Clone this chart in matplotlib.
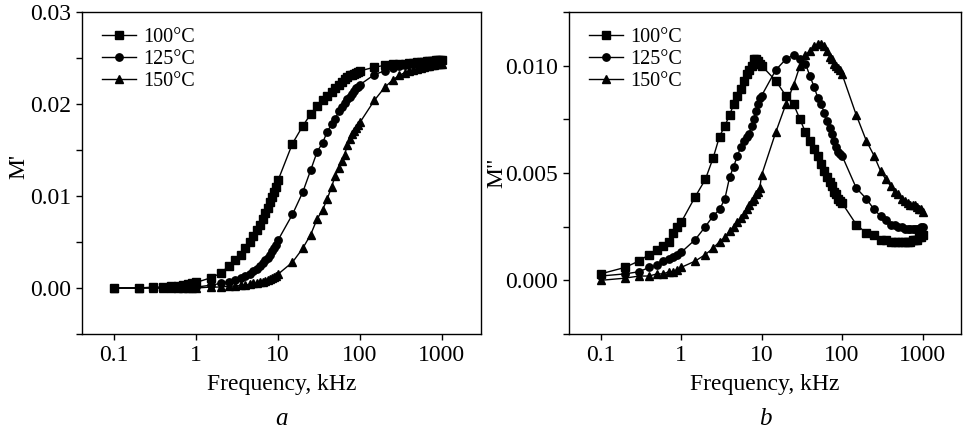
import matplotlib
matplotlib.use("Agg")
import matplotlib.pyplot as plt
from matplotlib.ticker import FixedLocator, NullLocator, MultipleLocator, FormatStrFormatter

plt.rcParams['font.family'] = ['Liberation Serif', 'DejaVu Serif']

# frequency points, kHz
freq = [0.1, 0.2, 0.3, 0.4, 0.5, 0.6, 0.7, 0.8, 0.9,
        1, 1.5, 2, 2.5, 3, 3.5, 4, 4.5, 5, 5.5, 6, 6.5, 7, 7.5, 8, 8.5, 9, 9.5,
        10, 15, 20, 25, 30, 35, 40, 45, 50, 55, 60, 65, 70, 75, 80, 85, 90, 95,
        100, 150, 200, 250, 300, 350, 400, 450, 500, 550, 600, 650, 700, 750,
        800, 850, 900, 950, 1000]

labels = ['100°C', '125°C', '150°C']
markers = ['s', 'o', '^']

# M' (real part of electric modulus)
m1_100 = [0.0000, 0.0000, 0.0001, 0.0001, 0.0002, 0.0002, 0.0003, 0.0004, 0.0005,
          0.0006, 0.0011, 0.0016, 0.0024, 0.0030, 0.0036, 0.0043, 0.0050, 0.0057,
          0.0063, 0.0069, 0.0075, 0.0081, 0.0087, 0.0093, 0.0099, 0.0104, 0.0110,
          0.0117, 0.0157, 0.0176, 0.0189, 0.0198, 0.0204, 0.0209, 0.0213, 0.0217,
          0.0221, 0.0224, 0.0227, 0.0229, 0.0231, 0.0232, 0.0233, 0.0234, 0.0235,
          0.0236, 0.0240, 0.0242, 0.0243, 0.0244, 0.0244, 0.0245, 0.0245, 0.0246,
          0.0246, 0.0246, 0.0247, 0.0247, 0.0247, 0.0247, 0.0248, 0.0248, 0.0248, 0.0248]
m1_125 = [0.0000, 0.0000, 0.0000, 0.0000, 0.0000, 0.0001, 0.0001, 0.0001, 0.0001,
          0.0001, 0.0003, 0.0005, 0.0007, 0.0009, 0.0011, 0.0013, 0.0015, 0.0018,
          0.0021, 0.0024, 0.0027, 0.0030, 0.0033, 0.0036, 0.0040, 0.0043, 0.0047,
          0.0052, 0.0080, 0.0104, 0.0128, 0.0148, 0.0158, 0.0170, 0.0178, 0.0184,
          0.0192, 0.0197, 0.0201, 0.0205, 0.0208, 0.0211, 0.0214, 0.0217, 0.0219,
          0.0221, 0.0232, 0.0236, 0.0239, 0.0241, 0.0242, 0.0243, 0.0244, 0.0244,
          0.0245, 0.0245, 0.0246, 0.0246, 0.0246, 0.0247, 0.0247, 0.0247, 0.0248, 0.0248]
m1_150 = [0.0000, 0.0000, 0.0000, 0.0000, 0.0000, 0.0000, 0.0000, 0.0000, 0.0000,
          0.0000, 0.0001, 0.0001, 0.0002, 0.0002, 0.0003, 0.0003, 0.0004, 0.0005,
          0.0005, 0.0006, 0.0007, 0.0008, 0.0009, 0.0010, 0.0011, 0.0012, 0.0013,
          0.0015, 0.0028, 0.0043, 0.0058, 0.0075, 0.0085, 0.0097, 0.0110, 0.0122,
          0.0130, 0.0138, 0.0145, 0.0155, 0.0162, 0.0167, 0.0171, 0.0174, 0.0177,
          0.0180, 0.0204, 0.0218, 0.0226, 0.0231, 0.0234, 0.0236, 0.0237, 0.0238,
          0.0239, 0.0240, 0.0241, 0.0241, 0.0242, 0.0242, 0.0243, 0.0243, 0.0244, 0.0244]

# M'' (imaginary part)
m2_100 = [0.0003, 0.0006, 0.0009, 0.0012, 0.0014, 0.0016, 0.0018, 0.0022, 0.0025,
          0.0027, 0.0039, 0.0047, 0.0057, 0.0067, 0.0072, 0.0077, 0.0082, 0.0086,
          0.0089, 0.0093, 0.0096, 0.0098, 0.0100, 0.0103, 0.0103, 0.0102, 0.0101,
          0.0100, 0.0093, 0.0086, 0.0082, 0.0075, 0.0069, 0.0065, 0.0061, 0.0058,
          0.0054, 0.0051, 0.0048, 0.0046, 0.0044, 0.0041, 0.0040, 0.0038, 0.0037,
          0.0036, 0.0026, 0.0022, 0.0021, 0.0019, 0.0019, 0.0018, 0.0018, 0.0018,
          0.0018, 0.0018, 0.0018, 0.0018, 0.0019, 0.0019, 0.0019, 0.0020, 0.0020, 0.0021]
m2_125 = [0.0002, 0.0003, 0.0004, 0.0006, 0.0007, 0.0009, 0.0010, 0.0011, 0.0012,
          0.0013, 0.0019, 0.0025, 0.0030, 0.0033, 0.0038, 0.0048, 0.0053, 0.0058,
          0.0062, 0.0065, 0.0067, 0.0068, 0.0072, 0.0075, 0.0079, 0.0082, 0.0085,
          0.0086, 0.0098, 0.0103, 0.0105, 0.0103, 0.0101, 0.0095, 0.0090, 0.0085,
          0.0082, 0.0078, 0.0074, 0.0071, 0.0068, 0.0065, 0.0062, 0.0060, 0.0059,
          0.0058, 0.0043, 0.0038, 0.0033, 0.0030, 0.0028, 0.0026, 0.0026, 0.0025,
          0.0025, 0.0024, 0.0024, 0.0024, 0.0024, 0.0024, 0.0024, 0.0024, 0.0025, 0.0025]
m2_150 = [0.0000, 0.0001, 0.0002, 0.0002, 0.0003, 0.0003, 0.0004, 0.0004, 0.0005,
          0.0006, 0.0009, 0.0012, 0.0015, 0.0018, 0.0020, 0.0023, 0.0025, 0.0027,
          0.0029, 0.0031, 0.0033, 0.0035, 0.0037, 0.0038, 0.0040, 0.0041, 0.0043,
          0.0049, 0.0069, 0.0082, 0.0091, 0.0100, 0.0105, 0.0107, 0.0109, 0.0110,
          0.0110, 0.0109, 0.0107, 0.0104, 0.0103, 0.0101, 0.0100, 0.0099, 0.0098,
          0.0096, 0.0077, 0.0065, 0.0058, 0.0051, 0.0047, 0.0044, 0.0041, 0.0040,
          0.0038, 0.0037, 0.0036, 0.0035, 0.0035, 0.0035, 0.0034, 0.0033, 0.0033, 0.0032]

xticks = [0.1, 1, 10, 100, 1000]
xticklabels = ['0.1', '1', '10', '100', '1000']

fig = plt.figure(figsize=(9.63, 4.30), dpi=100)
ax1 = fig.add_axes([82 / 963, 1 - 334 / 430, 399 / 963, 322 / 430])
ax2 = fig.add_axes([569 / 963, 1 - 334 / 430, 392 / 963, 322 / 430])


def style(ax, series, ylim, major, minor, fmt, ylabel, ylab_x, ylab_y, letter):
    for vals, lab, mk in zip(series, labels, markers):
        ax.plot(freq, vals, color='black', lw=1.0, marker=mk, ms=5.3,
                mfc='black', mec='black', label=lab)
    ax.set_xscale('log')
    ax.set_xlim(0.0405, 3000)
    ax.set_ylim(*ylim)
    ax.xaxis.set_major_locator(FixedLocator(xticks))
    ax.set_xticklabels(xticklabels)
    ax.xaxis.set_minor_locator(NullLocator())
    ax.yaxis.set_major_locator(MultipleLocator(major))
    ax.yaxis.set_minor_locator(MultipleLocator(minor))
    ax.yaxis.set_major_formatter(FormatStrFormatter(fmt))
    ax.tick_params(which='both', direction='out', labelsize=17, width=1, length=4.5)
    for s in ax.spines.values():
        s.set_linewidth(1.0)
    ax.set_xlabel('Frequency, kHz', fontsize=17, labelpad=6)
    ax.set_ylabel(ylabel, fontsize=17)
    ax.yaxis.set_label_coords(ylab_x, ylab_y)
    ax.text(0.5, -0.265, letter, transform=ax.transAxes, ha='center', va='center',
            fontsize=18, style='italic')
    ax.legend(loc='upper left', frameon=False, fontsize=14.5, handlelength=1.7,
              handletextpad=0.35, labelspacing=0.15, borderaxespad=0.4,
              bbox_to_anchor=(0.01, 1.0))


style(ax1, [m1_100, m1_125, m1_150], (-0.005, 0.03), 0.01, 0.005, '%.2f',
      "M'", -0.133, 0.52, 'a')
style(ax2, [m2_100, m2_125, m2_150], (-0.0025, 0.0125), 0.005, 0.0025, '%.3f',
      'M"', -0.158, 0.50, 'b')

fig.savefig('out.png', dpi=100)
